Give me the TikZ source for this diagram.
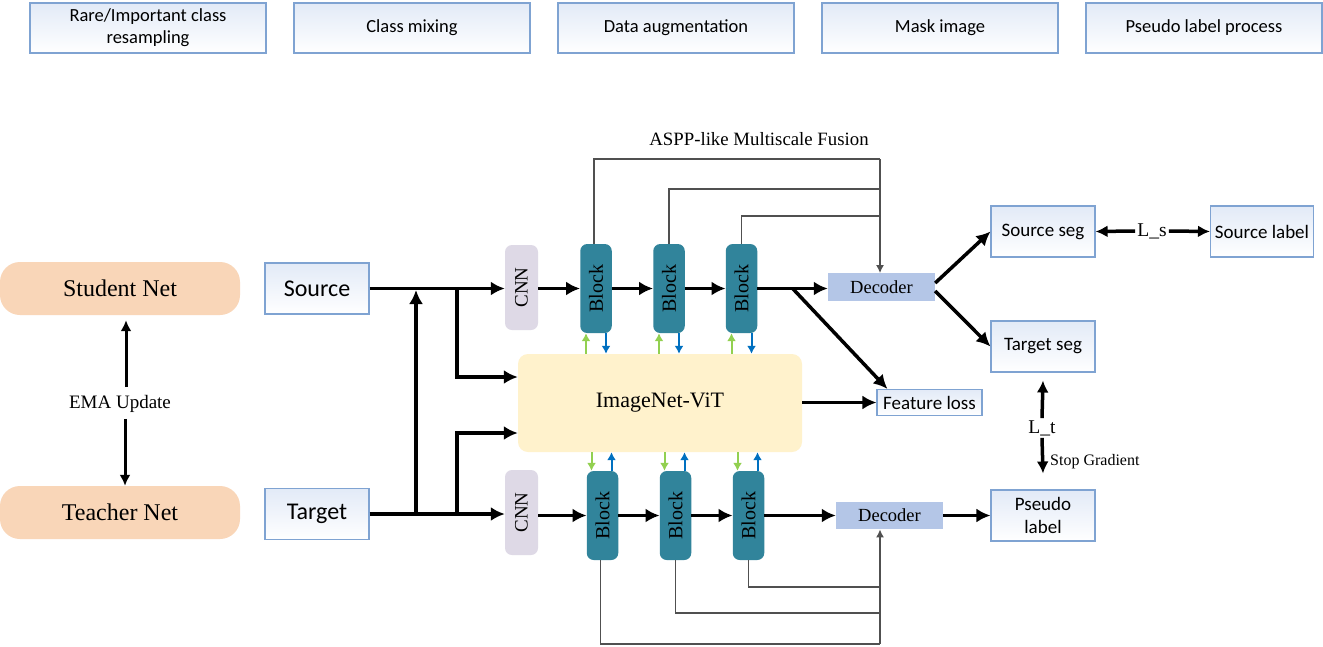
\documentclass[tikz,border=0pt]{standalone}
\usepackage{fontspec}
\setmainfont{Liberation Serif}
\newfontfamily\calibri{Carlito}
\usetikzlibrary{arrows.meta,calc}
\newcommand\fsz[2]{\fontsize{#1}{#2}\selectfont}
\definecolor{peach}{HTML}{F9D6B8}
\definecolor{blockteal}{HTML}{31849B}
\definecolor{lilac}{HTML}{DED9E6}
\definecolor{vitc}{HTML}{FFF2CC}
\definecolor{decc}{HTML}{B4C6E7}
\definecolor{bord}{HTML}{7FA3D2}
\definecolor{gtop}{HTML}{E2EAF7}
\definecolor{lgreen}{HTML}{92D050}
\definecolor{lblue}{HTML}{0070C0}
\definecolor{thinc}{HTML}{505050}
\begin{document}
\begin{tikzpicture}[x=1pt,y=-1pt,
  gbox/.style={draw=bord,line width=1.1pt,top color=gtop,bottom color=white,inner sep=0pt,align=center,font=\calibri\fsz{18.5pt}{22pt}},
  net/.style={fill=peach,rounded corners=20pt,minimum width=240pt,minimum height=53pt,inner sep=0pt,font=\fsz{24pt}{26pt}},
  cnnbox/.style={fill=lilac,rounded corners=7pt,minimum width=33pt,minimum height=85pt,inner sep=0pt},
  blk/.style={fill=blockteal,rounded corners=7pt,minimum width=31.5pt,minimum height=89pt,inner sep=0pt},
  vlabel/.style={rotate=90,font=\fsz{20pt}{22pt}},
  dec/.style={fill=decc,minimum width=107pt,minimum height=27.5pt,inner sep=0pt,font=\fsz{18.5pt}{20pt}},
  thk/.style={line width=3.5pt},
  arr/.style={thk,-{Latex[length=14pt,width=14pt]}},
  arrb/.style={line width=3.5pt,-{Latex[length=12pt,width=12pt]}},
  emaarr/.style={line width=3pt,-{Latex[length=11pt,width=11pt]}},
  gl/.style={thinc,line width=1.3pt},
  garr/.style={gl,-{Latex[length=8pt,width=8pt]}},
  ga/.style={lgreen,line width=2pt,-{Latex[length=8pt,width=9pt]}},
  ba/.style={lblue,line width=2pt,-{Latex[length=8pt,width=9pt]}}
]
\useasboundingbox[fill=white] (0,0) rectangle (1323,646);

% top boxes
\node[gbox,minimum width=236pt,minimum height=50pt] (t1) at (148,28) {Rare/Important class\\resampling};
\node[gbox,minimum width=236pt,minimum height=50pt] (t2) at (412,28) {Class mixing};
\node[gbox,minimum width=236pt,minimum height=50pt] (t3) at (676,28) {Data augmentation};
\node[gbox,minimum width=236pt,minimum height=50pt] (t4) at (940,28) {Mask image};
\node[gbox,minimum width=236pt,minimum height=50pt] (t5) at (1204,28) {Pseudo label process};

% student / teacher
\node[net] (student) at (120,288.5) {Student Net};
\node[net] (teacher) at (120,512.5) {Teacher Net};
\node[font=\fsz{19pt}{21pt},inner sep=2pt] (ema) at (120,404) {EMA Update};
\draw[emaarr] ($(ema.north)+(6,-6)$) -- ($(student.south)+(6,5)$);
\draw[emaarr] ($(ema.south)+(5,4)$) -- (teacher.north -| 125,0);

% source / target
\node[gbox,font=\calibri\fsz{24pt}{26pt},minimum width=104pt,minimum height=51pt] (src) at (317,288.5) {Source};
\node[gbox,font=\calibri\fsz{24pt}{26pt},minimum width=104pt,minimum height=51pt] (tgt) at (317,514) {Target};

% CNNs
\node[cnnbox] (cnn1) at (521.5,287.5) {};
\node[vlabel,font=\fsz{19pt}{21pt}] at (cnn1) {CNN};
\node[cnnbox] (cnn2) at (521.5,512.5) {};
\node[vlabel,font=\fsz{19pt}{21pt}] at (cnn2) {CNN};

% ViT
\node[fill=vitc,rounded corners=10pt,minimum width=284pt,minimum height=98pt,font=\fsz{22pt}{24pt}] (vit) at (660,403) {ImageNet-ViT};

% upper blocks
\node[blk] (b1u) at (596,288.5) {};
\node[vlabel] at (b1u) {Block};
\node[blk] (b2u) at (669,288.5) {};
\node[vlabel] at (b2u) {Block};
\node[blk] (b3u) at (741.5,288.5) {};
\node[vlabel] at (b3u) {Block};

% lower blocks
\node[blk] (b1l) at (602.5,515.5) {};
\node[vlabel] at (b1l) {Block};
\node[blk] (b2l) at (675.5,515.5) {};
\node[vlabel] at (b2l) {Block};
\node[blk] (b3l) at (748.5,515.5) {};
\node[vlabel] at (b3l) {Block};

% decoders
\node[dec] (dec1) at (881.5,287) {Decoder};
\node[dec] (dec2) at (889.5,515.5) {Decoder};

% right boxes
\node[gbox,font=\calibri\fsz{19pt}{20pt},minimum width=105pt,minimum height=26pt] (fl) at (929.5,402.5) {Feature loss};
\node[gbox,font=\calibri\fsz{19pt}{23pt},minimum width=104pt,minimum height=51pt] (sseg) at (1043,231.5) {Source seg};
\node[gbox,font=\calibri\fsz{19pt}{23pt},minimum width=103pt,minimum height=51pt] (slab) at (1262,231.5) {Source label};
\node[gbox,font=\calibri\fsz{19pt}{23pt},minimum width=104pt,minimum height=51pt] (tseg) at (1043,346.5) {Target seg};
\node[gbox,font=\calibri\fsz{19pt}{23pt},minimum width=104pt,minimum height=51pt] (plab) at (1043,515.5) {Pseudo\\label};

\node[font=\fsz{19.5pt}{20pt},inner sep=2pt] (ls) at (1152,231) {L\_s};
\node[font=\fsz{19.5pt}{20pt},inner sep=2pt] (lt) at (1042,428) {L\_t};
\node[anchor=west,font=\fsz{16pt}{18pt},inner sep=0pt] (sg) at (1050,462) {Stop Gradient};
\node[font=\fsz{18.8pt}{20pt}] (aspp) at (759,139) {ASPP-like Multiscale Fusion};

% input routing
\coordinate (jv) at (416,0);
\coordinate (jb) at (457,0);
\draw[arr] (src.east) -- (cnn1.west |- src.east);
\draw[arr] (tgt.east) -- (cnn2.west |- tgt.east);
\draw[arr] (tgt.east -| jv) -- ($(src.east -| jv)+(0,1.5)$);
\draw[arr] (src.east -| jb) |- (vit.west |- 0,377);
\draw[arr] (tgt.east -| jb) |- (vit.west |- 0,433);

% upper chain
\draw[arr] (cnn1.east |- b1u) -- (b1u.west);
\draw[arr] (b1u.east) -- (b2u.west);
\draw[arr] (b2u.east) -- (b3u.west);
\draw[arr] (b3u.east) -- (dec1.west |- b3u);
\coordinate (dsplit) at ($(b3u.east)!0.5!(dec1.west |- b3u)$);
\draw[arr] (dsplit) -- ($(fl.north west)+(11,0)$);
\draw[arr] ($(dec1.east)+(0,-4)$) -- (sseg.west);
\draw[arr] ($(dec1.east)+(0,4)$) -- (tseg.west);
\draw[arr] (vit.east |- fl.west) -- (fl.west);

% lower chain
\draw[arr] (cnn2.east |- b1l) -- (b1l.west);
\draw[arr] (b1l.east) -- (b2l.west);
\draw[arr] (b2l.east) -- (b3l.west);
\draw[arr] (b3l.east) -- (dec2.west);
\draw[arr] (dec2.east) -- (plab.west |- dec2.east);

% losses
\draw[arrb] (ls.west) -- (sseg.east);
\draw[arrb] (ls.east) -- (slab.west);
\draw[arrb] (lt.north) -- ($(tseg.south)+(0,8)$);
\draw[arrb] (lt.south) -- ($(plab.north)+(0,-16)$);

% ASPP connections (upper)
\coordinate (c1) at (880,159);
\coordinate (c2) at (880,189);
\coordinate (c3) at (880,216);
\draw[gl] ($(b1u.north)+(-2,0)$) |- (c1);
\draw[gl] (b2u.north) |- (c2);
\draw[gl] (b3u.north) |- (c3);
\draw[garr] (c1) -- (dec1.north -| c1);

% ASPP connections (lower)
\coordinate (d1) at (880,644);
\coordinate (d2) at (880,613);
\coordinate (d3) at (880,587);
\draw[gl] ($(b1l.south)+(-2,0)$) |- (d1);
\draw[gl] (b2l.south) |- (d2);
\draw[gl] (b3l.south) |- (d3);
\draw[garr] (d1) -- (dec2.south -| d1);

% ViT <-> block exchanges
\foreach \b in {b1u,b2u,b3u}{
  \draw[ga] ($(vit.north -| \b)+(-10,0)$) -- ($(\b.south)+(-10,0)$);
  \draw[ba] ($(\b.south)+(10,0)$) -- ($(vit.north -| \b)+(10,0)$);
}
\foreach \b in {b1l,b2l,b3l}{
  \draw[ga] ($(vit.south -| \b)+(-11,0)$) -- ($(\b.north)+(-11,0)$);
  \draw[ba] ($(\b.north)+(9,0)$) -- ($(vit.south -| \b)+(9,0)$);
}
\end{tikzpicture}
\end{document}
